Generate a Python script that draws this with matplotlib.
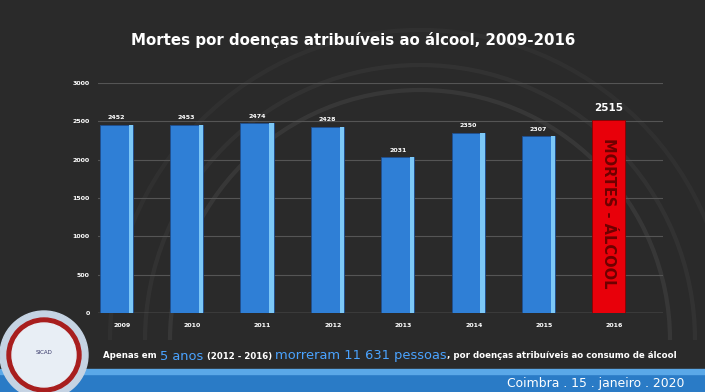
import matplotlib
matplotlib.use("Agg")
import matplotlib.pyplot as plt
from matplotlib.patches import Circle, Rectangle, Arc
import numpy as np

years = ["2009", "2010", "2011", "2012", "2013", "2014", "2015", "2016"]
deaths = [2452, 2453, 2474, 2428, 2031, 2350, 2307, 2515]
yticks = [0, 500, 1000, 1500, 2000, 2500, 3000]
title = "Mortes por doenças atribuíveis ao álcool, 2009-2016"

W, H = 705, 392
fig = plt.figure(figsize=(W / 100, H / 100), dpi=100)
fig.patch.set_facecolor("#2a2a2a")

# decorative background arcs
bg = fig.add_axes([0, 0, 1, 1])
bg.set_xlim(0, W); bg.set_ylim(H, 0); bg.axis("off")
bg.set_facecolor("#2a2a2a")
for r, a in [(250, 0.16), (275, 0.10), (310, 0.08)]:
    bg.add_patch(Arc((420, 340), 2 * r, 2 * r, theta1=180, theta2=360,
                     color="#808080", lw=3, alpha=a))
# bottom banner
bg.add_patch(Rectangle((0, 374), W, 18, color="#2a7bc6", zorder=1))
bg.add_patch(Rectangle((0, 369), W, 5, color="#5aa8e8", zorder=1))
bg.text(684, 383, "Coimbra . 15 . janeiro . 2020", color="white",
        fontsize=8.9, ha="right", va="center", zorder=3)
# logo
bg.add_patch(Circle((44, 355), 44, color="#c5d3e3", zorder=2))
bg.add_patch(Circle((44, 355), 37, color="#a81e1e", zorder=2))
bg.add_patch(Circle((44, 355), 32, color="#e8eef5", zorder=2))
bg.text(44, 352, "SICAD", fontsize=4, ha="center", va="center",
        color="#333366", zorder=3)

L, R, T, B = 98, 663, 83, 313
ax = fig.add_axes([L / W, 1 - B / H, (R - L) / W, (B - T) / H])
ax.set_facecolor("none")
x = np.arange(len(years))
colors = ["#2f7fd6"] * (len(years) - 1) + ["#e8000a"]
ax.bar(x, deaths, width=0.47, color=colors, zorder=2,
       edgecolor=["#1f4f8f"] * (len(years) - 1) + ["#8a0000"], linewidth=0.6)
# light right-edge highlight on blue bars
ax.bar(x[:-1] + 0.205, deaths[:-1], width=0.06, color="#7cc8f7", zorder=3,
       linewidth=0)
ax.set_ylim(0, 3000)
ax.set_xlim(-0.26, 7.77)
ax.set_yticks(yticks)
ax.set_yticklabels([str(v) for v in yticks], fontsize=4.5, color="white",
                   fontweight="bold")
ax.set_xticks(x + 0.08)
ax.set_xticklabels(years, fontsize=4.5, color="white", fontweight="bold")
ax.tick_params(axis="y", length=0, pad=6)
ax.tick_params(axis="x", length=0, pad=7)
ax.grid(axis="y", color="#555555", lw=0.8, zorder=0)
for s in ax.spines.values():
    s.set_visible(False)
ax.axhline(0, color="#777777", lw=1, zorder=1)

for i, v in enumerate(deaths):
    if i == len(years) - 1:
        ax.text(i, v + 100, str(v), color="white", fontsize=7.5,
                fontweight="bold", ha="center", va="bottom")
        ax.text(i, v / 2 + 50, "MORTES - ÁLCOOL", color="#6e0000", fontsize=10.5,
                fontweight="bold", rotation=270, ha="center", va="center")
    else:
        ax.text(i, v + 60, str(v), color="white", fontsize=4.5,
                fontweight="bold", ha="center", va="bottom")

fig.text(353 / W, 1 - 40 / H, title, color="white", fontsize=10.8,
         fontweight="bold", ha="center", va="center")

# subtitle with coloured parts
parts = [("Apenas em ", "white", 6.2, "bold"),
         ("5 anos ", "#4aa3ff", 9.4, "normal"),
         ("(2012 - 2016) ", "white", 6.2, "bold"),
         ("morreram 11 631 pessoas", "#4aa3ff", 9.4, "normal"),
         (", por doenças atribuíveis ao consumo de álcool", "white", 6.2, "bold")]
renderer = fig.canvas.get_renderer()
xpos = 103
for txt, col, fs, fw in parts:
    t = bg.text(xpos, 356, txt, color=col, fontsize=fs, fontweight=fw,
                ha="left", va="center", zorder=3)
    bb = t.get_window_extent(renderer=renderer)
    xpos += bb.width

fig.savefig("out.png", dpi=100, facecolor=fig.get_facecolor())
